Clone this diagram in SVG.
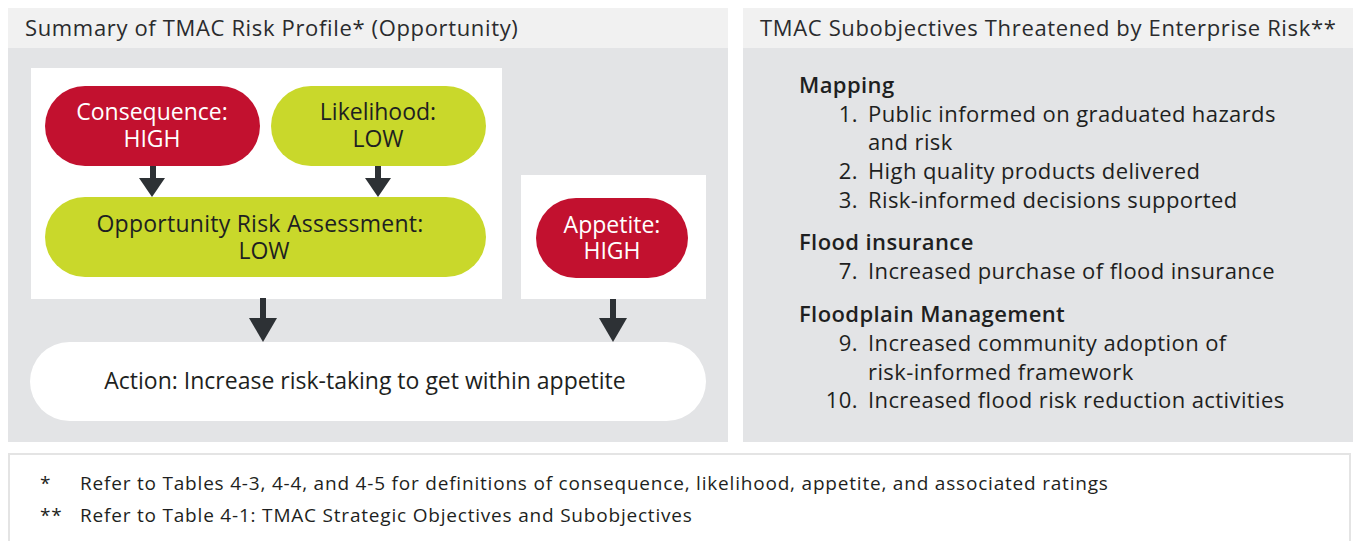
<svg xmlns="http://www.w3.org/2000/svg" width="1353" height="541" viewBox="0 0 1353 541">
<style>
text{font-family:"Open Sans","Liberation Sans",sans-serif;fill:#1e1f21}
.hdr{font-size:22px;letter-spacing:0.65px;fill:#2a2b2d}
.pill{font-size:23px;text-anchor:middle}
.wide{letter-spacing:0.25px}
.w{fill:#ffffff}
.red{fill:#c2112f}
.lime{fill:#c9d82b}
.lst{font-size:22px;letter-spacing:0.4px}
.num{font-size:22px;letter-spacing:0.4px;text-anchor:end}
.b{font-weight:600}
.ft{font-size:19px;letter-spacing:0.8px}
.arr{fill:#2d3135}
</style>
<rect width="1353" height="541" fill="#ffffff"/>
<g id="left-panel">
<rect x="8" y="8" width="720" height="40" fill="#f1f1f1"/>
<rect x="8" y="48" width="720" height="394" fill="#e3e4e6"/>
<text class="hdr" x="25" y="36">Summary of TMAC Risk Profile* (Opportunity)</text>
<rect x="31" y="68" width="471" height="231" fill="#ffffff"/>
<rect x="521" y="175" width="185" height="124" fill="#ffffff"/>
</g>
<g id="right-panel">
<rect x="743" y="8" width="610" height="40" fill="#f1f1f1"/>
<rect x="743" y="48" width="610" height="394" fill="#e3e4e6"/>
<text class="hdr" x="760" y="36">TMAC Subobjectives Threatened by Enterprise Risk**</text>
<text class="lst b" x="799" y="93">Mapping</text>
<text class="num" x="858" y="122">1.</text>
<text class="lst" x="868" y="122">Public informed on graduated hazards</text>
<text class="lst" x="868" y="150">and risk</text>
<text class="num" x="858" y="179">2.</text>
<text class="lst" x="868" y="179">High quality products delivered</text>
<text class="num" x="858" y="208">3.</text>
<text class="lst" x="868" y="208">Risk-informed decisions supported</text>
<text class="lst b" x="799" y="250">Flood insurance</text>
<text class="num" x="858" y="279">7.</text>
<text class="lst" x="868" y="279">Increased purchase of flood insurance</text>
<text class="lst b" x="799" y="322">Floodplain Management</text>
<text class="num" x="858" y="351">9.</text>
<text class="lst" x="868" y="351">Increased community adoption of</text>
<text class="lst" x="868" y="380">risk-informed framework</text>
<text class="num" x="858" y="408">10.</text>
<text class="lst" x="868" y="408">Increased flood risk reduction activities</text>
</g>
<g id="consequence">
<rect class="red" x="45" y="86" width="215" height="80" rx="40"/>
<text class="pill w" x="152" y="120">Consequence:</text>
<text class="pill w" x="152" y="147">HIGH</text>
</g>
<g id="likelihood">
<rect class="lime" x="271" y="86" width="215" height="80" rx="40"/>
<text class="pill" x="378" y="120">Likelihood:</text>
<text class="pill" x="378" y="147">LOW</text>
</g>
<g id="assessment">
<rect class="lime" x="45" y="197" width="441" height="80" rx="40"/>
<text class="pill wide" x="260" y="232">Opportunity Risk Assessment:</text>
<text class="pill" x="264" y="259">LOW</text>
</g>
<g id="appetite">
<rect class="red" x="536" y="198" width="152" height="80" rx="40"/>
<text class="pill w" x="612" y="233">Appetite:</text>
<text class="pill w" x="612" y="259">HIGH</text>
</g>
<g id="action">
<rect x="30" y="342" width="676" height="79" rx="39.5" fill="#ffffff"/>
<text class="pill" x="365" y="389">Action: Increase risk-taking to get within appetite</text>
</g>
<g id="connectors">
<rect class="arr" x="150" y="166" width="6" height="13"/>
<polygon class="arr" points="139,178 165,178 152,197"/>
<rect class="arr" x="375" y="166" width="6" height="13"/>
<polygon class="arr" points="365,178 391,178 378,197"/>
<rect class="arr" x="260" y="298" width="6" height="21"/>
<polygon class="arr" points="249,318 277,318 263,342"/>
<rect class="arr" x="610" y="299" width="6" height="20"/>
<polygon class="arr" points="599,318 627,318 613,342"/>
</g>
<g id="footnotes">
<rect x="9" y="454" width="1341" height="90" fill="#ffffff" stroke="#e4e4e4" stroke-width="2"/>
<text class="ft" x="40" y="490">*</text>
<text class="ft" x="80" y="490">Refer to Tables 4-3, 4-4, and 4-5 for definitions of consequence, likelihood, appetite, and associated ratings</text>
<text class="ft" x="40" y="522">**</text>
<text class="ft" x="80" y="522">Refer to Table 4-1: TMAC Strategic Objectives and Subobjectives</text>
</g>
</svg>
